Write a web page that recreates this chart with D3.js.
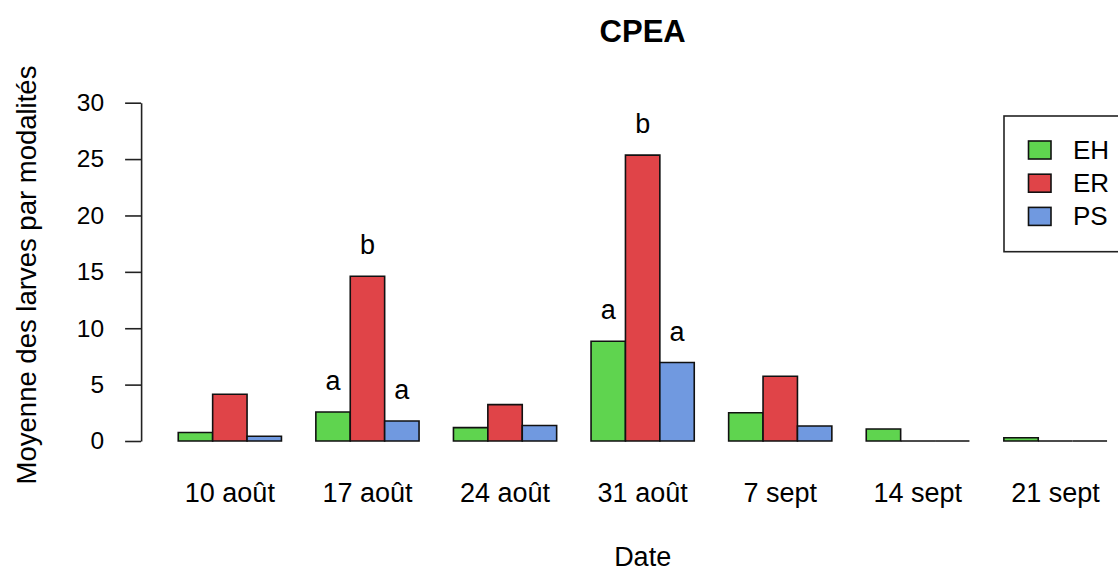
<!DOCTYPE html>
<html>
<head>
<meta charset="utf-8">
<script src="https://cdn.jsdelivr.net/npm/d3@7"></script>
<style>
  html, body { margin: 0; padding: 0; background: #fff; }
  svg { display: block; font-family: "Liberation Sans", Arial, sans-serif; }
</style>
</head>
<body>
<svg id="chart" width="1118" height="572"></svg>
<script>
// ---- data ----
const dates = ["10 août", "17 août", "24 août", "31 août", "7 sept", "14 sept", "21 sept"];
const seriesNames = ["EH", "ER", "PS"];
const valuesEH = [0.75, 2.57, 1.19, 8.85, 2.51, 1.06, 0.29];
const valuesER = [4.14, 14.61, 3.23, 25.35, 5.74, 0, 0];
const valuesPS = [0.42, 1.77, 1.37, 6.96, 1.33, 0, 0];
const lettersEH = ["", "a", "", "a", "", "", ""];
const lettersER = ["", "b", "", "b", "", "", ""];
const lettersPS = ["", "a", "", "a", "", "", ""];
const yTicks = [0, 5, 10, 15, 20, 25, 30];
const colors = ["#5fd44f", "#e04448", "#7099e0"];

const series = [valuesEH, valuesER, valuesPS];
const letters = [lettersEH, lettersER, lettersPS];

const svg = d3.select("#chart");
const FONT = "'Liberation Sans', Arial, sans-serif";

// x in bar units (R barplot beside=TRUE, space=c(0,1))
const nGroups = dates.length, nSeries = series.length;
const totalUnits = nGroups * (nSeries + 1);
const ext = 0.04 * (totalUnits - 1);
const x = d3.scaleLinear().domain([1 - ext, totalUnits + ext]).range([141.1, 1144.2]);
const y = d3.scaleLinear().domain([0, 30]).range([441, 102.7]);

function barLeft(g, s) { return 1 + g * (nSeries + 1) + s; }

// bars (as paths so zero-height bars still draw as lines)
const bars = [];
series.forEach((vals, s) => vals.forEach((v, g) => bars.push({ g, s, v })));
svg.append("g").selectAll("path").data(bars).join("path")
  .attr("d", d => {
    const x0 = x(barLeft(d.g, d.s)), x1 = x(barLeft(d.g, d.s) + 1);
    const y0 = y(0), y1 = y(d.v);
    return `M${x0},${y0}V${y1}H${x1}V${y0}Z`;
  })
  .attr("fill", d => colors[d.s])
  .attr("stroke", "#111")
  .attr("stroke-width", 1.6);

// significance letters
const lab = [];
letters.forEach((arr, s) => arr.forEach((t, g) => { if (t) lab.push({ g, s, t, v: series[s][g] }); }));
svg.append("g").selectAll("text").data(lab).join("text")
  .attr("x", d => x(barLeft(d.g, d.s) + 0.5))
  .attr("y", d => y(d.v) - 22)
  .attr("text-anchor", "middle")
  .attr("font-size", 27)
  .attr("fill", "#000")
  .text(d => d.t);

// y axis
const yAxis = d3.axisLeft(y).tickValues(yTicks).tickSize(16).tickSizeOuter(0).tickPadding(21);
const ya = svg.append("g").attr("transform", `translate(${x(1 - ext)},0)`).call(yAxis);
ya.select(".domain").attr("stroke", "#222").attr("stroke-width", 1.6);
ya.selectAll(".tick line").attr("stroke", "#222").attr("stroke-width", 1.6);
ya.selectAll(".tick text").attr("font-size", 24.5).attr("font-family", FONT).attr("fill", "#000");

// x labels
svg.append("g").selectAll("text").data(dates).join("text")
  .attr("x", (d, g) => x(barLeft(g, 0) + nSeries / 2))
  .attr("y", 502)
  .attr("text-anchor", "middle")
  .attr("font-size", 27)
  .attr("fill", "#000")
  .text(d => d);

// titles
const cx = (x.range()[0] + x.range()[1]) / 2;
svg.append("text").attr("x", cx).attr("y", 42).attr("text-anchor", "middle")
  .attr("font-size", 31).attr("font-weight", "bold").text("CPEA");
svg.append("text").attr("x", cx).attr("y", 566).attr("text-anchor", "middle")
  .attr("font-size", 27).text("Date");
svg.append("text").attr("transform", `translate(36,275) rotate(-90)`).attr("text-anchor", "middle")
  .attr("font-size", 27.5).text("Moyenne des larves par modalités");

// legend
const lg = svg.append("g");
lg.append("rect").attr("x", 1004).attr("y", 116).attr("width", 200).attr("height", 135.7)
  .attr("fill", "#fff").attr("stroke", "#222").attr("stroke-width", 1.6);
seriesNames.forEach((n, i) => {
  const cy = 150 + i * 33.2;
  lg.append("rect").attr("x", 1028.5).attr("y", cy - 9).attr("width", 22.5).attr("height", 18)
    .attr("fill", colors[i]).attr("stroke", "#111").attr("stroke-width", 1.6);
  lg.append("text").attr("x", 1073).attr("y", cy + 9).attr("font-size", 26).text(n);
});
</script>
</body>
</html>
